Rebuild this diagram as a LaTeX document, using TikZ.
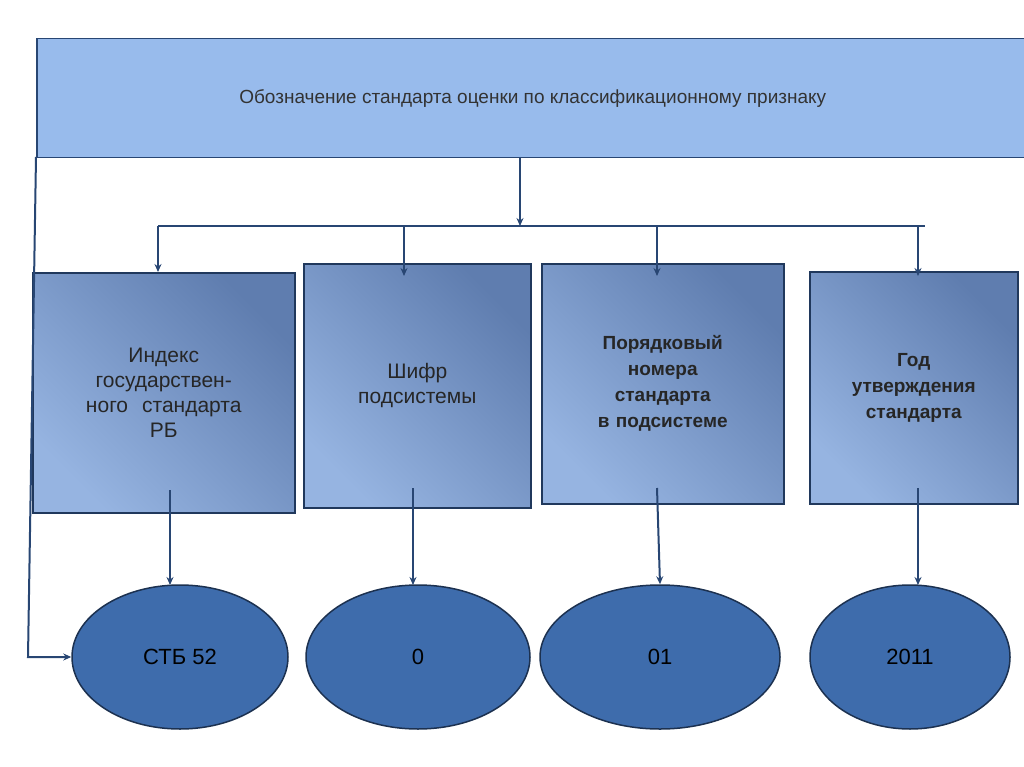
\documentclass[tikz,border=0pt]{standalone}
\usepackage{fontspec}
\setmainfont{Liberation Sans}
\usetikzlibrary{shapes.geometric,arrows.meta}
\definecolor{topfill}{RGB}{152,187,236}
\definecolor{boxlight}{RGB}{150,180,225}
\definecolor{boxdark}{RGB}{95,125,175}
\definecolor{ellfill}{RGB}{62,108,172}
\definecolor{linecol}{RGB}{40,70,115}
\tikzset{every picture/.style={line width=0.75pt}}
\tikzset{
  box/.style={draw=linecol!80!black,line width=1.5pt,top color=boxlight,bottom color=boxdark,
    shading angle=135,anchor=north west,align=center,font=\fontsize{21}{25}\selectfont,text=black!85},
  oval/.style={ellipse,draw=linecol!70!black,line width=1.5pt,fill=ellfill,
    font=\fontsize{22}{26}\selectfont,text=black},
  conn/.style={draw=linecol,line width=2pt,-{Stealth[length=8pt,width=7pt]}}
}
\begin{document}
\begin{tikzpicture}[x=1pt,y=1pt,yscale=-1]
\useasboundingbox (0,0) rectangle (1024,767);

%Title box
\node (title) [draw=linecol,line width=1.5pt,fill=topfill,anchor=north west,minimum width=992,minimum height=119,
  text=black!80,font=\fontsize{19}{23}\selectfont] at (36,38) {Обозначение стандарта оценки по классификационному признаку};

%Boxes
\node (idx) [box,minimum width=262,minimum height=240,text width=240] at (32,272)
  {Индекс\\государствен-\\ного\ \ стандарта\\РБ};
\node (cipher) [box,minimum width=227,minimum height=244,text width=210] at (303,263)
  {Шифр\\подсистемы\\[14pt]};
\node (num) [box,minimum width=242,minimum height=240,text width=225,font=\bfseries\fontsize{19}{26}\selectfont] at (541,263)
  {Порядковый\\номера\\стандарта\\в подсистеме\\[10pt]};
\node (year) [box,minimum width=208,minimum height=232,text width=195,font=\bfseries\fontsize{19}{26}\selectfont] at (809,271)
  {Год\\утверждения\\стандарта\\[16pt]};

%Ovals
\node (stb) [oval,minimum width=216,minimum height=144] at (180,657) {СТБ 52};
\node (zero) [oval,minimum width=224,minimum height=144] at (418,657) {0};
\node (one) [oval,minimum width=240,minimum height=144] at (660,657) {01};
\node (yr) [oval,minimum width=200,minimum height=144] at (910,657) {2011};

%Connectors
\coordinate (bus) at (520,226);
\coordinate (busl) at (158,226);
\coordinate (busr) at (925,226);
\draw[conn] (520,157) -- (bus);
\draw[draw=linecol,line width=2pt] (busl) -- (busr);
\draw[conn] (busl) -- (158,272);
\draw[conn] (404,226) -- (404,276);
\draw[conn] (657,226) -- (657,276);
\draw[conn] (918,226) -- (918,276);
\draw[conn] (170,490) -- (170,585);
\draw[conn] (413,488) -- (413,585);
\draw[conn] (657,488) -- (one.north);
\draw[conn] (918,488) -- (918,585);
\draw[conn] (36,157) -- (28,657) -- (stb.west);
\end{tikzpicture}
\end{document}
